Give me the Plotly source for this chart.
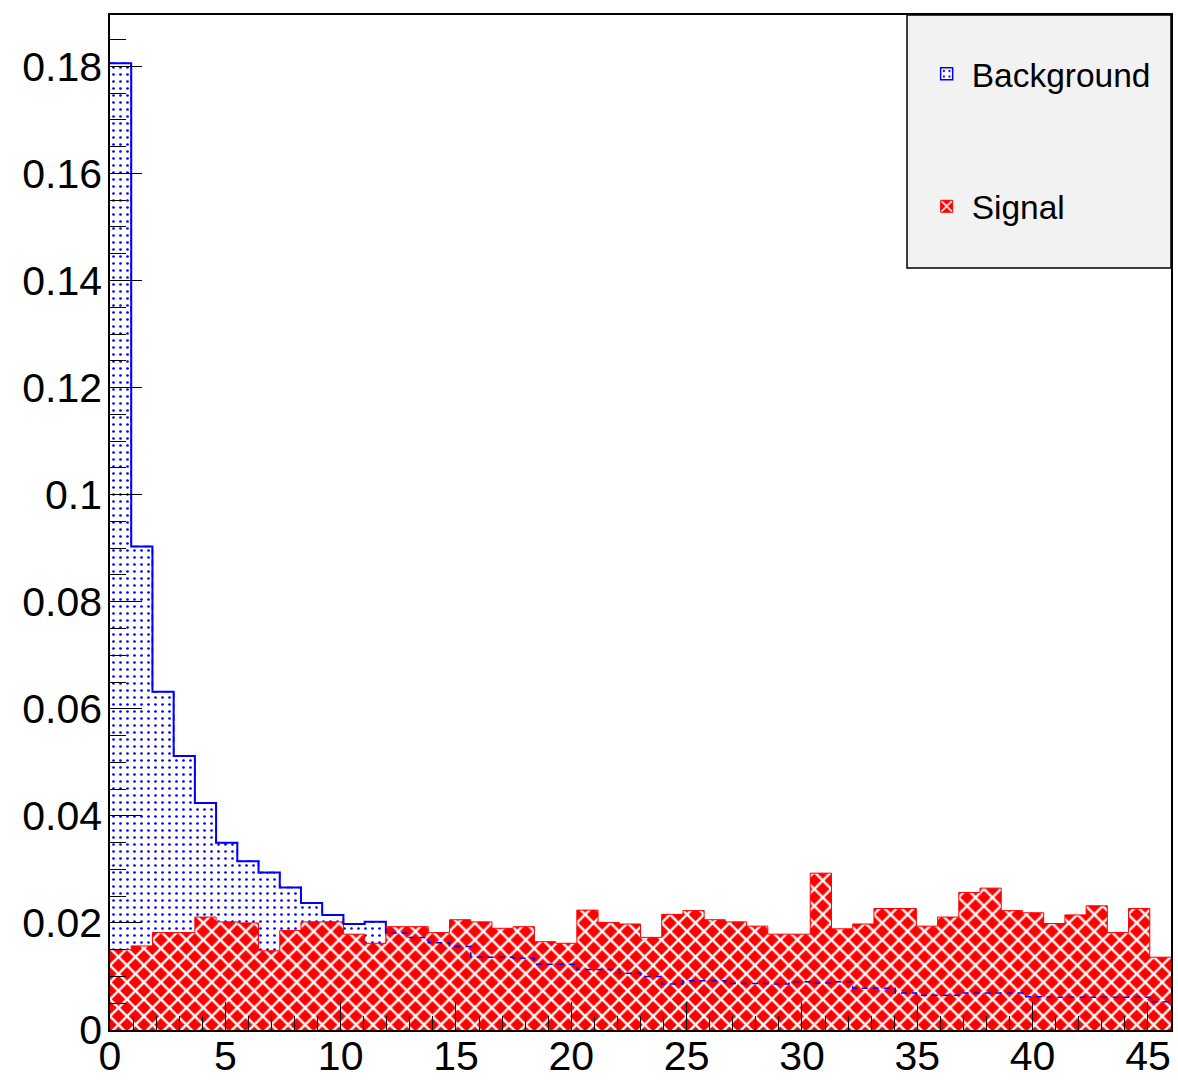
import numpy as np
import plotly.graph_objects as go

# Histogram binning
x_min = 0.0
x_max = 46.0
n_bins = 50

background = [
    0.1806, 0.0903, 0.0632, 0.0512, 0.0424, 0.0350, 0.0315, 0.0294, 0.0266, 0.0237,
    0.0215, 0.0198, 0.0202, 0.0181, 0.0173, 0.0163, 0.0156, 0.0136, 0.0136, 0.0134,
    0.0123, 0.0123, 0.0113, 0.0113, 0.0106, 0.0100, 0.0086, 0.0092, 0.0092, 0.0087,
    0.0087, 0.0086, 0.0090, 0.0088, 0.0090, 0.0078, 0.0078, 0.0069, 0.0065, 0.0065,
    0.0069, 0.0069, 0.0069, 0.0062, 0.0061, 0.0061, 0.0061, 0.0061, 0.0061, 0.0053,
]
signal = [
    0.0150, 0.0157, 0.0182, 0.0182, 0.0211, 0.0202, 0.0200, 0.0148, 0.0186, 0.0202,
    0.0202, 0.0179, 0.0162, 0.0193, 0.0193, 0.0182, 0.0206, 0.0202, 0.0190, 0.0193,
    0.0165, 0.0162, 0.0224, 0.0201, 0.0198, 0.0173, 0.0216, 0.0223, 0.0206, 0.0202,
    0.0194, 0.0179, 0.0179, 0.0293, 0.0189, 0.0198, 0.0227, 0.0227, 0.0194, 0.0211,
    0.0257, 0.0265, 0.0223, 0.0219, 0.0199, 0.0215, 0.0232, 0.0182, 0.0227, 0.0136,
]
y_max = 0.1896

edges = np.linspace(x_min, x_max, n_bins + 1)
bkg_step = np.append(background, background[-1])
sig_step = np.append(signal, signal[-1])

BLUE = "#0000ff"
RED = "#ff0000"
FONT = "Liberation Sans, Arial, sans-serif"

bkg_pattern = dict(shape=".", fgcolor=BLUE, bgcolor="white", size=7, solidity=0.12, fillmode="replace")
sig_pattern = dict(shape="x", fgcolor="white", bgcolor=RED, size=12, solidity=0.35, fillmode="replace")

fig = go.Figure()

fig.add_trace(go.Scatter(
    x=edges, y=bkg_step, mode="lines", name="Background",
    line=dict(color=BLUE, width=2, shape="hv"),
    fill="tozeroy", fillcolor="white", fillpattern=bkg_pattern,
    showlegend=False, hoverinfo="skip",
))
fig.add_trace(go.Scatter(
    x=edges, y=sig_step, mode="lines", name="Signal",
    line=dict(color=RED, width=1, shape="hv"),
    fill="tozeroy", fillcolor=RED, fillpattern=sig_pattern,
    showlegend=False, hoverinfo="skip",
))
# background outline seen through the signal hatching
fig.add_trace(go.Scatter(
    x=edges, y=bkg_step, mode="lines",
    line=dict(color=BLUE, width=1.5, shape="hv", dash="6px,5px"),
    showlegend=False, hoverinfo="skip",
))
# legend entries (no data)
fig.add_trace(go.Bar(
    x=[None], y=[None], name="Background", legendgroup="bkg",
    marker=dict(color="white", line=dict(color=BLUE, width=1.5), pattern=bkg_pattern),
))
fig.add_trace(go.Bar(
    x=[None], y=[None], name="Signal", legendgroup="sig",
    marker=dict(color=RED, line=dict(color=RED, width=1), pattern=sig_pattern),
))

axis_font = dict(family=FONT, size=41, color="black")

fig.update_layout(
    width=1178, height=1080,
    margin=dict(l=110, r=7, t=15, b=50),
    paper_bgcolor="white", plot_bgcolor="white",
    font=axis_font,
    showlegend=True,
    legend=dict(
        x=0.765, y=0.97, xanchor="left", yanchor="top",
        bgcolor="rgba(0,0,0,0)", borderwidth=0,
        font=dict(family=FONT, size=33.5, color="black"),
        tracegroupgap=86, traceorder="grouped", itemwidth=40,
    ),
    shapes=[dict(
        type="rect", xref="paper", yref="paper",
        x0=(907 - 110) / 1061, x1=1.0, y0=(1030 - 268) / 1015, y1=1.0,
        fillcolor="#f2f2f2", line=dict(color="black", width=1.5), layer="below",
    )],
)

fig.update_xaxes(
    range=[x_min, x_max], showgrid=False, zeroline=False, automargin=False,
    showline=True, mirror=True, linecolor="black", linewidth=1.5,
    ticks="inside", ticklen=28, tickwidth=1.3, tickcolor="black",
    tick0=0, dtick=5, ticklabelstandoff=-11,
    minor=dict(ticks="inside", ticklen=14, dtick=1, tickcolor="black", tickwidth=1.3),
    tickfont=axis_font,
)
fig.update_yaxes(
    range=[0, y_max], showgrid=False, zeroline=False, automargin=False,
    showline=True, mirror=True, linecolor="black", linewidth=1.5,
    ticks="inside", ticklen=32, tickwidth=1.3, tickcolor="black",
    tick0=0, dtick=0.02, tickformat="~g", ticklabelstandoff=-2,
    minor=dict(ticks="inside", ticklen=16, dtick=0.005, tickcolor="black", tickwidth=1.3),
    tickfont=axis_font,
)

fig.write_html("out.html")
